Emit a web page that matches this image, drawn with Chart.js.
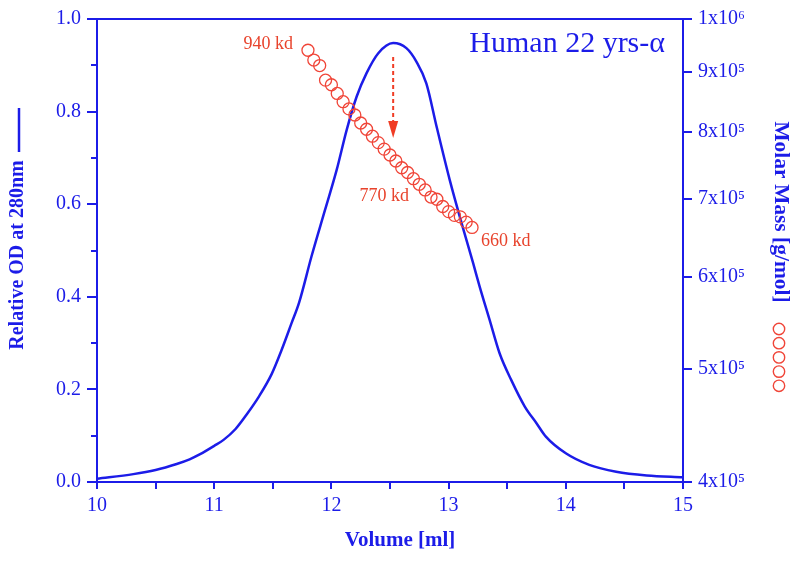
<!DOCTYPE html>
<html>
<head>
<meta charset="utf-8">
<script src="https://cdn.jsdelivr.net/npm/chart.js@4/dist/chart.umd.min.js"></script>
<style>
  html, body { margin: 0; padding: 0; background: #fff; }
  #wrap { width: 800px; height: 561px; }
</style>
</head>
<body>
<div id="wrap"><canvas id="c" width="800" height="561"></canvas></div>
<script>
// ---- data ----
const volume = [10.0, 10.31, 10.5, 10.68, 10.79, 10.88, 11.0, 11.08, 11.18, 11.28, 11.38, 11.49, 11.575, 11.66, 11.725, 11.83, 11.945, 12.045, 12.13, 12.215, 12.30, 12.40, 12.527, 12.64, 12.725, 12.81, 12.9, 13.01, 13.12, 13.21, 13.265, 13.35, 13.435, 13.535, 13.65, 13.75, 13.83, 14.0, 14.2, 14.43, 14.69, 15.0];
const od = [0.007, 0.017, 0.026, 0.039, 0.049, 0.060, 0.078, 0.091, 0.114, 0.147, 0.184, 0.233, 0.285, 0.343, 0.388, 0.487, 0.587, 0.674, 0.760, 0.832, 0.883, 0.926, 0.948, 0.937, 0.908, 0.861, 0.765, 0.652, 0.551, 0.472, 0.422, 0.350, 0.278, 0.220, 0.163, 0.127, 0.098, 0.062, 0.037, 0.022, 0.014, 0.010];
const massVolume = [11.80, 11.85, 11.90, 11.95, 12.00, 12.05, 12.10, 12.15, 12.20, 12.25, 12.30, 12.35, 12.40, 12.45, 12.50, 12.55, 12.60, 12.65, 12.70, 12.75, 12.80, 12.85, 12.90, 12.95, 13.00, 13.05, 13.10, 13.15, 13.20];
const massKd = [940, 922, 912, 886, 878, 863, 849, 837, 827, 814, 804, 793, 783, 773, 764, 755, 745, 738, 729, 721, 713, 703, 700, 690, 683, 678, 676, 669, 662];
const xTicks = [10, 11, 12, 13, 14, 15];
const yTicks = [0.0, 0.2, 0.4, 0.6, 0.8, 1.0];
const massTicks = [4, 5, 6, 7, 8, 9, 10]; // x10^5
const annotations = [
  { text: '940 kd', vol: 11.80, kd: 940 },
  { text: '770 kd', vol: 12.45, kd: 773 },
  { text: '660 kd', vol: 13.20, kd: 662 }
];

const BLUE = '#1c1ce8';
const RED = '#e8432c';
const CIRC = '#f04538';
const SERIF = "'Liberation Serif', 'Times New Roman', serif";

const sup = { '5': '\u2075', '6': '\u2076' };

const extras = {
  id: 'extras',
  afterDraw(chart) {
    const ctx = chart.ctx;
    const ca = chart.chartArea;
    const xs = chart.scales.x, ys = chart.scales.y, ms = chart.scales.y2;
    ctx.save();
    // top border
    ctx.strokeStyle = BLUE; ctx.lineWidth = 2;
    ctx.beginPath(); ctx.moveTo(ca.left - 1, ca.top); ctx.lineTo(ca.right + 1, ca.top); ctx.stroke();
    // minor ticks on left axis
    for (let v = 0.1; v < 1.0; v += 0.2) {
      const py = Math.round(ys.getPixelForValue(v));
      ctx.beginPath(); ctx.moveTo(ca.left, py); ctx.lineTo(ca.left - 6, py); ctx.stroke();
    }
    // title
    ctx.fillStyle = BLUE;
    ctx.font = '30px ' + SERIF;
    ctx.textAlign = 'right'; ctx.textBaseline = 'middle';
    ctx.fillText('Human 22 yrs-\u03b1', ca.right - 18, ca.top + 25);
    // axis titles
    ctx.font = 'bold 21px ' + SERIF;
    ctx.textAlign = 'center';
    ctx.fillText('Volume [ml]', 400, 541);
    ctx.save();
    ctx.translate(18, 255); ctx.rotate(-Math.PI / 2);
    ctx.font = 'bold 20px ' + SERIF;
    ctx.fillText('Relative OD at 280nm', 0, 0);
    ctx.restore();
    ctx.beginPath(); ctx.moveTo(19, 152); ctx.lineTo(19, 108); ctx.lineWidth = 2.5; ctx.stroke();
    ctx.save();
    ctx.translate(781, 212); ctx.rotate(Math.PI / 2);
    ctx.font = 'bold 21.5px ' + SERIF;
    ctx.fillText('Molar Mass [g/mol]', 0, 0);
    ctx.restore();
    ctx.strokeStyle = CIRC; ctx.lineWidth = 1.4;
    for (let i = 0; i < 5; i++) {
      ctx.beginPath(); ctx.arc(779, 329 + i * 14.2, 5.7, 0, Math.PI * 2); ctx.stroke();
    }
    // arrow at peak
    let pk = 0; od.forEach((v, i) => { if (v > od[pk]) pk = i; });
    const ax = xs.getPixelForValue(volume[pk]);
    const y0 = ys.getPixelForValue(0.918), y1 = ys.getPixelForValue(0.743);
    ctx.strokeStyle = '#f03c24'; ctx.fillStyle = '#f03c24'; ctx.lineWidth = 2;
    ctx.setLineDash([4, 3]);
    ctx.beginPath(); ctx.moveTo(ax, y0); ctx.lineTo(ax, y1 - 14); ctx.stroke();
    ctx.setLineDash([]);
    ctx.beginPath(); ctx.moveTo(ax - 5, y1 - 17); ctx.lineTo(ax + 5, y1 - 17); ctx.lineTo(ax, y1); ctx.closePath(); ctx.fill();
    // annotations
    ctx.fillStyle = RED; ctx.font = '18px ' + SERIF; ctx.textBaseline = 'middle';
    const a0 = annotations[0], a1 = annotations[1], a2 = annotations[2];
    ctx.textAlign = 'right';
    ctx.fillText(a0.text, xs.getPixelForValue(a0.vol) - 15, ms.getPixelForValue(a0.kd * 1000) - 6);
    ctx.textAlign = 'center';
    ctx.fillText(a1.text, xs.getPixelForValue(a1.vol), ms.getPixelForValue(a1.kd * 1000) + 47);
    ctx.textAlign = 'left';
    ctx.fillText(a2.text, xs.getPixelForValue(a2.vol) + 9, ms.getPixelForValue(a2.kd * 1000) + 14);
    ctx.restore();
  }
};

new Chart(document.getElementById('c'), {
  data: {
    datasets: [
      {
        type: 'scatter',
        data: massVolume.map((v, i) => ({ x: v, y: massKd[i] * 1000 })),
        yAxisID: 'y2',
        pointRadius: 6,
        pointBorderWidth: 1.3,
        pointBorderColor: CIRC,
        pointBackgroundColor: 'rgba(0,0,0,0)',
        showLine: false,
        order: 0
      },
      {
        type: 'line',
        data: volume.map((v, i) => ({ x: v, y: od[i] })),
        yAxisID: 'y',
        borderColor: BLUE,
        borderWidth: 2.5,
        pointRadius: 0,
        cubicInterpolationMode: 'monotone',
        fill: false,
        order: 1
      }
    ]
  },
  options: {
    responsive: false,
    animation: false,
    layout: { padding: { top: 19, left: 0, right: 0, bottom: 0 } },
    plugins: { legend: { display: false }, tooltip: { enabled: false } },
    scales: {
      x: {
        type: 'linear', min: 10, max: 15,
        afterFit(s) { s.height = 79; },
        afterBuildTicks(s) {
          const t = [];
          for (let v = 10; v <= 15.001; v += 0.5) t.push({ value: Math.round(v * 10) / 10 });
          s.ticks = t;
        },
        ticks: {
          color: BLUE, font: { family: SERIF, size: 20 }, padding: 5, maxRotation: 0, autoSkip: false,
          callback: (v) => xTicks.includes(v) ? String(v) : ''
        },
        grid: { drawOnChartArea: false, color: BLUE, lineWidth: 2, tickLength: 7 },
        border: { color: BLUE, width: 2 }
      },
      y: {
        type: 'linear', position: 'left', min: 0, max: 1,
        afterFit(s) { s.width = 97; },
        afterBuildTicks(s) { s.ticks = yTicks.map(v => ({ value: v })); },
        ticks: {
          color: BLUE, font: { family: SERIF, size: 20 }, padding: 6,
          callback: (v) => Number(v).toFixed(1)
        },
        grid: { drawOnChartArea: false, color: BLUE, lineWidth: 2, tickLength: 10 },
        border: { color: BLUE, width: 2 }
      },
      y2: {
        type: 'logarithmic', position: 'right', min: 4e5, max: 1e6,
        afterFit(s) { s.width = 117; },
        afterBuildTicks(s) { s.ticks = massTicks.map(v => ({ value: v * 1e5 })); },
        ticks: {
          color: BLUE, font: { family: SERIF, size: 20 }, padding: 6, autoSkip: false,
          callback: (v) => {
            const m = Math.round(v / 1e5);
            return m === 10 ? '1x10' + sup['6'] : m + 'x10' + sup['5'];
          }
        },
        grid: { drawOnChartArea: false, color: BLUE, lineWidth: 2, tickLength: 9 },
        border: { color: BLUE, width: 2 }
      }
    }
  },
  plugins: [extras]
});
</script>
</body>
</html>
